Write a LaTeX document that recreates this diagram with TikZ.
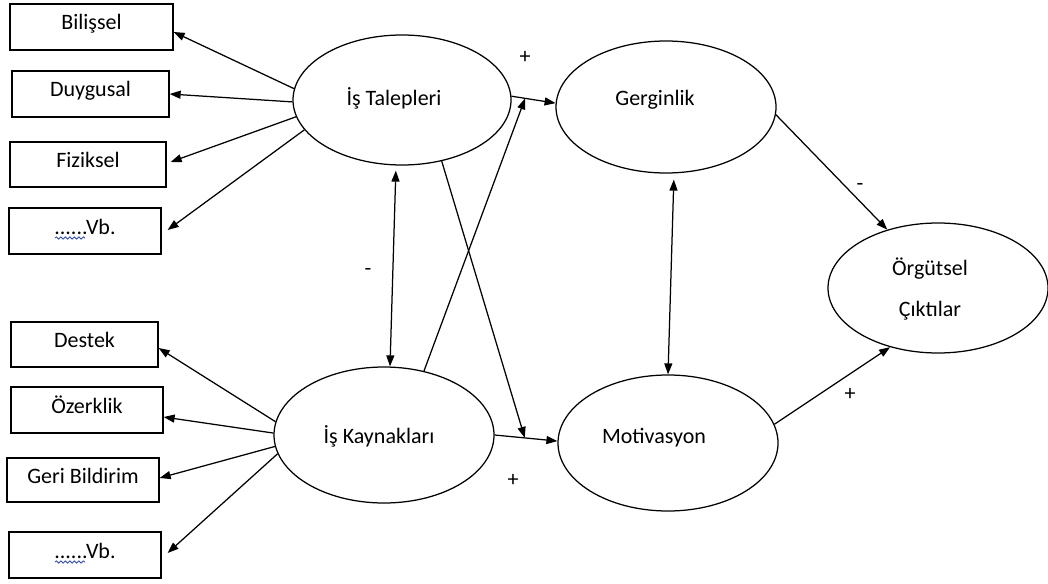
\documentclass[tikz,border=0pt]{standalone}
\usepackage{fontspec}
\setmainfont{Carlito}
\usetikzlibrary{arrows.meta,shapes.geometric,calc,decorations.pathmorphing}
\definecolor{spell}{RGB}{40,70,230}

\begin{document}
\begin{tikzpicture}[x=1pt,y=-1pt,
  font=\fontsize{22}{26}\selectfont,
  line width=1.25pt,
  oval/.style={draw, ellipse, inner sep=0pt},
  box/.style={draw, rectangle, inner sep=0pt, text height=14pt, text depth=8pt},
  lbl/.style={inner sep=0pt, text height=14pt, text depth=0pt},
  link/.style={-{Triangle[length=11pt,width=8pt]}},
  both/.style={{Triangle[length=11pt,width=8pt]}-{Triangle[length=11pt,width=8pt]}},
  squiggle/.style={draw=spell, line width=0.8pt, decorate,
    decoration={snake, amplitude=1.1pt, segment length=4.5pt}}]

\useasboundingbox (0,0) rectangle (1048,583);

% demand indicators
\node[box, minimum width=163pt, minimum height=46pt] (B1) at (91.5,27)  {Bilişsel};
\node[box, minimum width=157pt, minimum height=46pt] (B2) at (90.5,94)  {Duygusal};
\node[box, minimum width=156pt, minimum height=45pt] (B3) at (88,164.5) {Fiziksel};
\node[box, minimum width=152pt, minimum height=46pt] (B4) at (85,231)   {......Vb.};

% resource indicators
\node[box, minimum width=147pt, minimum height=45pt] (R1) at (84.5,344.5) {Destek};
\node[box, minimum width=152pt, minimum height=46pt] (R2) at (87,410)     {Özerklik};
\node[box, minimum width=152pt, minimum height=44pt] (R3) at (83,480)     {Geri Bildirim};
\node[box, minimum width=152pt, minimum height=46pt] (R4) at (85,555)     {......Vb.};

% spell-check underline under the dots
\draw[squiggle] ([xshift=-30pt,yshift=-7pt]B4.center) -- ([yshift=-7pt]B4.center);
\draw[squiggle] ([xshift=-30pt,yshift=-7pt]R4.center) -- ([yshift=-7pt]R4.center);

% constructs
\node[oval, minimum width=218pt, minimum height=130pt] (T) at (402,100) {};
\node[oval, minimum width=220pt, minimum height=136pt] (K) at (384,435) {};
\node[oval, minimum width=220pt, minimum height=132pt] (G) at (666,107) {};
\node[oval, minimum width=220pt, minimum height=136pt] (M) at (668,443) {};
\node[oval, minimum width=220pt, minimum height=130pt] (O) at (938,288) {};

\node[lbl] (tT) at (394,99)  {İş Talepleri};
\node[lbl] (tK) at (379,436) {İş Kaynakları};
\node[lbl] (tG) at (655,99)  {Gerginlik};
\node[lbl] (tM) at (654,436) {Motivasyon};
\node[lbl] (tO1) at (930,268) {Örgütsel};
\node[lbl] (tO2) at (930,309) {Çıktılar};

% job demands -> indicators
\draw[link] (T.174) -- ([yshift=-5pt]B1.east);
\draw[link] (T.181) -- (B2.east);
\draw[link] (T.189) -- ([xshift=4pt,yshift=2.5pt]B3.east);
\draw[link] (T.197) -- ([xshift=6pt,yshift=1pt]B4.east);

% job resources -> indicators
\draw[link] (K.173) -- ([yshift=-3.5pt]R1.east);
\draw[link] (K.179) -- ([yshift=-7pt]R2.east);
\draw[link] (K.186) -- ([yshift=2pt]R3.east);
\draw[link] (K.190) -- ([xshift=6pt,yshift=2pt]R4.east);

% main paths
\draw[link] (T.2) -- (G.178);
\draw[link] (K.0) -- (M.179);
\coordinate (gIn) at ($(T.2)!0.31!(G.178)$);
\coordinate (mIn) at ($(K.0)!0.48!(M.179)$);
\draw[link] (K.58) -- (gIn);
\draw[link] (T.303) -- (mIn);

\draw[both, shorten <=5pt] ([xshift=-6pt]T.south) -- ([xshift=6pt]K.north);
\draw[both, shorten <=6pt] ([xshift=8pt]G.south) -- (M.north);

\draw[link] (G.356) -- (O.131);
\draw[link] (M.10) -- (O.231);

% signs
\node[lbl] (s1) at (525,57)  {+};
\node[lbl] (s2) at (368,268) {-};
\node[lbl] (s3) at (513,479) {+};
\node[lbl] (s4) at (860,183) {-};
\node[lbl] (s5) at (850,393) {+};

\end{tikzpicture}
\end{document}
